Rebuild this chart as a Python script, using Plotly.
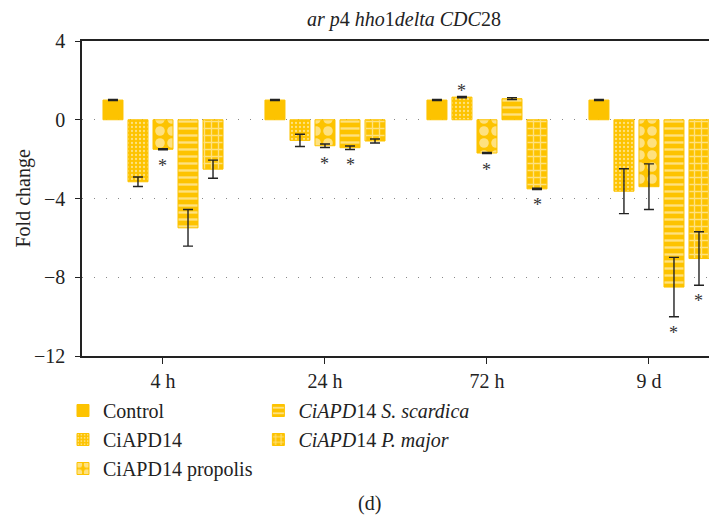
import plotly.graph_objects as go

# ── Data ──
TIMES = ["4 h", "24 h", "72 h", "9 d"]

CONTROL = [1.0, 1.0, 1.0, 1.0]
CONTROL_ERR = [0.03, 0.03, 0.03, 0.03]

CIAPD14 = [-3.15, -1.05, 1.15, -3.63]
CIAPD14_ERR = [0.24, 0.31, 0.03, 1.14]

PROPOLIS = [-1.5, -1.32, -1.69, -3.4]
PROPOLIS_ERR = [0.03, 0.09, 0.03, 1.16]

SCARDICA = [-5.49, -1.42, 1.07, -8.5]
SCARDICA_ERR = [0.93, 0.09, 0.05, 1.51]

PMAJOR = [-2.51, -1.08, -3.51, -7.05]
PMAJOR_ERR = [0.46, 0.1, 0.03, 1.36]

# significance stars (per series, per time point)
SIG_CIAPD14 = [False, False, True, False]
SIG_PROPOLIS = [True, True, True, False]
SIG_SCARDICA = [False, True, False, True]
SIG_PMAJOR = [False, False, True, True]

# ── Style ──
GOLD = "#FDC300"
INK = "#222222"
FONT = "Liberation Serif, Times New Roman, serif"
BARGAP = 0.228

series = [
    ("Control", CONTROL, CONTROL_ERR, None, dict(shape=""), "legend"),
    ("CiAPD14", CIAPD14, CIAPD14_ERR, SIG_CIAPD14,
     dict(shape=".", fgcolor="white", size=4, solidity=0.25, fillmode="overlay"), "legend"),
    ("CiAPD14 propolis", PROPOLIS, PROPOLIS_ERR, SIG_PROPOLIS,
     dict(shape=".", fgcolor="white", size=12, solidity=0.5, fillmode="overlay"), "legend"),
    ("<i>CiAPD</i>14 <i>S. scardica</i>", SCARDICA, SCARDICA_ERR, SIG_SCARDICA,
     dict(shape="-", fgcolor="white", size=7, solidity=0.33, fillmode="overlay"), "legend2"),
    ("<i>CiAPD</i>14 <i>P. major</i>", PMAJOR, PMAJOR_ERR, SIG_PMAJOR,
     dict(shape="+", fgcolor="white", size=7, solidity=0.35, fillmode="overlay"), "legend2"),
]

fig = go.Figure()
annotations = []
slot = (1 - BARGAP) / len(series)

for i, (name, vals, errs, sig, pattern, leg) in enumerate(series):
    fig.add_trace(go.Bar(
        x=TIMES, y=vals, name=name,
        marker=dict(color=GOLD, line=dict(color=GOLD, width=1), pattern=pattern),
        error_y=dict(type="data", array=errs, color=INK, thickness=1.4, width=5),
        legend=leg,
    ))
    if sig is None:
        continue
    for j, s in enumerate(sig):
        if not s:
            continue
        v, e = vals[j], errs[j]
        below = v < 0
        annotations.append(dict(
            x=j + (i - 2) * slot, y=(v - e) if below else (v + e),
            xref="x", yref="y", text="*", showarrow=False,
            yanchor="middle", yshift=-16 if below else 6,
            font=dict(family=FONT, size=18, color="#333333"),
        ))

annotations += [
    dict(text="(d)", x=0.4535, y=-0.468, xref="paper", yref="paper",
         xanchor="center", yanchor="middle",
         showarrow=False, font=dict(family=FONT, size=20, color=INK)),
    dict(text="Fold change", x=-0.0929, y=0.5, xref="paper", yref="paper",
         textangle=-90, xanchor="center", yanchor="middle",
         showarrow=False, font=dict(family=FONT, size=20, color=INK)),
]

fig.update_layout(
    width=717, height=517,
    margin=dict(l=74, r=8, t=33, b=169, autoexpand=False),
    paper_bgcolor="white", plot_bgcolor="white",
    font=dict(family=FONT, size=20, color=INK),
    barmode="group", bargap=BARGAP, bargroupgap=0.2,
    title=dict(
        text="<i>ar p</i>4 <i>hho</i>1<i>delta CDC</i>28",
        x=0.507, xref="paper", xanchor="center",
        y=1 - 11 / 517, yanchor="middle",
        font=dict(family=FONT, size=20, color=INK),
    ),
    legend=dict(
        xref="container", yref="container", x=0.0767, y=1 - 383 / 517,
        xanchor="left", yanchor="top", bgcolor="rgba(0,0,0,0)",
        font=dict(family=FONT, size=20, color=INK),
    ),
    legend2=dict(
        xref="container", yref="container", x=0.3492, y=1 - 383 / 517,
        xanchor="left", yanchor="top", bgcolor="rgba(0,0,0,0)",
        font=dict(family=FONT, size=20, color=INK),
    ),
    annotations=annotations,
    showlegend=True,
)

fig.update_xaxes(
    range=[-0.5, 3.42], showline=True, linecolor=INK, linewidth=1.5,
    mirror=True, ticks="outside", ticklen=6, tickcolor=INK,
    showgrid=False, tickfont=dict(family=FONT, size=20), automargin=False,
)
fig.update_yaxes(
    range=[-12, 4], tickvals=[4, 0, -4, -8, -12],
    showline=True, linecolor=INK, linewidth=1.5,
    ticks="outside", ticklen=5, tickcolor=INK, ticklabelstandoff=6,
    showgrid=True, gridcolor="#888888", griddash="1px,11px", gridwidth=1,
    zeroline=False, tickfont=dict(family=FONT, size=20), automargin=False,
)

fig.write_html("out.html")
